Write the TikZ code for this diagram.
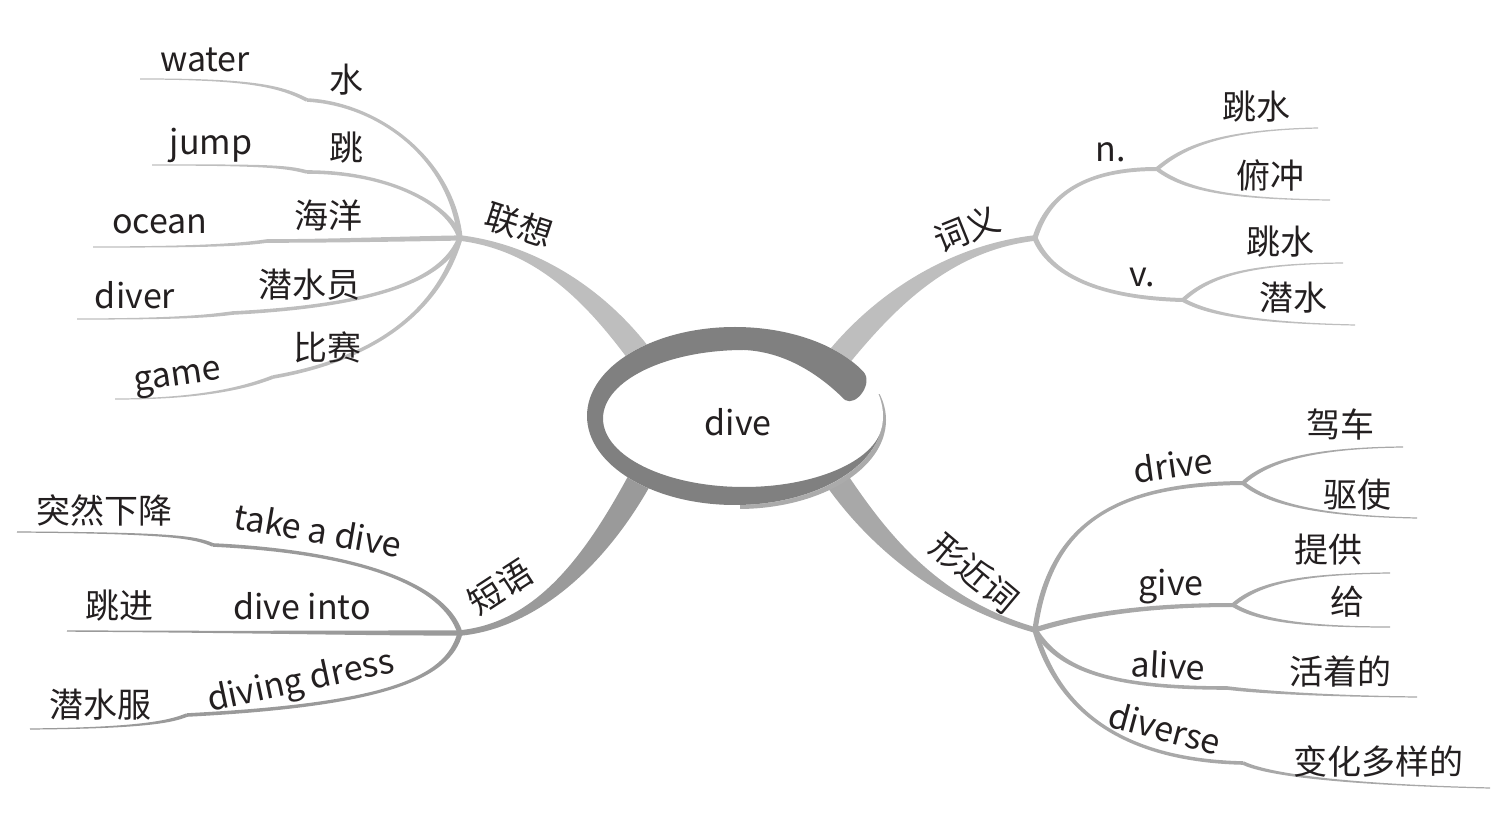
\documentclass[tikz,border=0pt]{standalone}
\usepackage{fontspec}
\setmainfont{Noto Sans CJK SC}
\usetikzlibrary{calc}
\usepackage{xcolor}

\definecolor{paleline}{HTML}{BEBEBE}
\definecolor{midline}{HTML}{9A9A9A}
\definecolor{softline}{HTML}{A8A8A8}
\definecolor{ringgray}{HTML}{808080}
\definecolor{rimgray}{HTML}{ABABAB}
\definecolor{ink}{HTML}{231F20}

% tapered branch: colour, wide end, control, control, narrow end, half widths
\newcommand\limb[7]{%
  \path (#2) coordinate (l0) (#3) coordinate (l1) (#4) coordinate (l2) (#5) coordinate (l3);
  \path ($(l0)!#6!90:(l1)$) coordinate (la) ($(l0)!#6!-90:(l1)$) coordinate (lb)
        ($(l3)!#7!-90:(l2)$) coordinate (lc) ($(l3)!#7!90:(l2)$) coordinate (ld);
  \fill[#1] (la) .. controls ($(l1)+(la)-(l0)$) and ($(l2)+(lc)-(l3)$) .. (lc)
    -- (ld) .. controls ($(l2)+(ld)-(l3)$) and ($(l1)+(lb)-(l0)$) .. (lb) -- cycle;
}

\begin{document}
\begin{tikzpicture}[
    x=0.5pt, y=-0.5pt,
    word/.style={inner sep=0pt, text=ink, font=\fontsize{17pt}{20pt}\selectfont}
]
\useasboundingbox (0,0) rectangle (1504,817);

% hubs and knees
\coordinate (assoc) at (460,238);
\coordinate (sense) at (1035,238);
\coordinate (phrase) at (460,633);
\coordinate (alike) at (1035,630);
\coordinate (nhub) at (1157,169);
\coordinate (vhub) at (1183,300);
\coordinate (drivehub) at (1243,483);
\coordinate (givehub) at (1233,605);
\coordinate (aliveknee) at (1227,688);
\coordinate (diverseknee) at (1243,763);
\coordinate (waterknee) at (307,100);
\coordinate (jumpknee) at (307,172);
\coordinate (oceanknee) at (267,241);
\coordinate (diverknee) at (233,313);
\coordinate (gameknee) at (273,377);
\coordinate (takeknee) at (213,545);
\coordinate (dressknee) at (187,715);

% main branches
\limb{paleline}{645,362}{600,300}{540,248}{assoc}{6pt}{1.4pt}
\limb{paleline}{835,362}{885,300}{950,248}{sense}{6pt}{1.4pt}
\limb{midline}{645,470}{600,555}{540,625}{phrase}{6pt}{1.4pt}
\limb{softline}{830,470}{870,530}{930,600}{alike}{6pt}{1.4pt}

% 联想
\limb{paleline}{assoc}{452,160}{380,104}{waterknee}{1.3pt}{0.9pt}
\limb{paleline}{waterknee}{280,86}{250,79}{140,79}{0.9pt}{0.3pt}
\limb{paleline}{assoc}{450,205}{390,172}{jumpknee}{1.3pt}{0.9pt}
\limb{paleline}{jumpknee}{285,166}{260,165}{152,165}{0.9pt}{0.3pt}
\limb{paleline}{assoc}{400,239}{330,241}{oceanknee}{1.3pt}{0.9pt}
\limb{paleline}{oceanknee}{240,245}{200,247}{93,247}{0.9pt}{0.3pt}
\limb{paleline}{assoc}{445,275}{390,305}{diverknee}{1.3pt}{0.9pt}
\limb{paleline}{diverknee}{210,316}{180,319}{77,319}{0.9pt}{0.3pt}
\limb{paleline}{assoc}{445,290}{400,355}{gameknee}{1.3pt}{0.9pt}
\limb{paleline}{gameknee}{245,388}{200,399}{115,399}{0.9pt}{0.3pt}

% 词义
\limb{paleline}{sense}{1048,195}{1085,169}{nhub}{1.3pt}{1.0pt}
\limb{paleline}{nhub}{1185,145}{1225,130}{1318,128}{1.0pt}{0.3pt}
\limb{paleline}{nhub}{1185,190}{1230,199}{1330,200}{1.0pt}{0.3pt}
\limb{paleline}{sense}{1050,275}{1100,298}{vhub}{1.3pt}{1.0pt}
\limb{paleline}{vhub}{1210,275}{1250,264}{1343,263}{1.0pt}{0.3pt}
\limb{paleline}{vhub}{1210,315}{1260,323}{1355,325}{1.0pt}{0.3pt}

% 短语
\limb{midline}{phrase}{445,585}{360,552}{takeknee}{1.3pt}{0.9pt}
\limb{midline}{takeknee}{195,537}{170,533}{17,532}{0.9pt}{0.3pt}
\limb{midline}{phrase}{350,633}{250,632}{67,631}{1.3pt}{0.35pt}
\limb{midline}{phrase}{448,680}{380,705}{dressknee}{1.3pt}{0.9pt}
\limb{midline}{dressknee}{170,722}{140,728}{30,729}{0.9pt}{0.3pt}

% 形近词
\limb{softline}{alike}{1050,520}{1120,484}{drivehub}{1.3pt}{1.0pt}
\limb{softline}{drivehub}{1268,460}{1315,448}{1403,447}{1.0pt}{0.3pt}
\limb{softline}{drivehub}{1268,503}{1315,516}{1417,518}{1.0pt}{0.3pt}
\limb{softline}{alike}{1090,612}{1160,605}{givehub}{1.3pt}{1.0pt}
\limb{softline}{givehub}{1258,583}{1300,574}{1390,573}{1.0pt}{0.3pt}
\limb{softline}{givehub}{1258,620}{1300,627}{1390,627}{1.0pt}{0.3pt}
\limb{softline}{alike}{1060,670}{1110,688}{aliveknee}{1.3pt}{0.9pt}
\limb{softline}{aliveknee}{1260,692}{1320,696}{1417,697}{0.9pt}{0.3pt}
\limb{softline}{alike}{1055,700}{1110,760}{diverseknee}{1.3pt}{0.9pt}
\limb{softline}{diverseknee}{1262,772}{1320,784}{1490,788}{0.9pt}{0.3pt}

% centre disc with its swirl
\begin{scope}
  \clip (740,395) rectangle (900,530);
  \fill[rimgray] (738,420) ellipse [x radius=148, y radius=89];
\end{scope}
\fill[white] (735,416) ellipse [x radius=148, y radius=89];
\fill[ringgray] (863.2,371.5) .. controls (836.8,344) and (787.8,327) .. (735,327)
  .. controls (653.3,327) and (587,366.8) .. (587,416)
  .. controls (587,465.2) and (653.3,505) .. (735,505)
  .. controls (808.8,505) and (871.8,471.9) .. (881.7,427.9)
  .. controls (874.3,461.6) and (814.3,487) .. (744,487)
  .. controls (666.1,487) and (603,456.3) .. (603,418.5)
  .. controls (603,380.7) and (666.1,350) .. (744,350)
  .. controls (790,352) and (825,380) .. (845,400)
  .. controls (856,407) and (874,383) .. (863.2,371.5) -- cycle;
\node[word] (core) at (738,422) {dive};

% labels
\node[word, rotate=-18] (assoclabel) at (519,225) {联想};
\node[word] (shui) at (346,80) {水};
\node[word] (water) at (205,60) {water};
\node[word] (tiao) at (346,148) {跳};
\node[word] (jump) at (211,145) {jump};
\node[word] (haiyang) at (328,216) {海洋};
\node[word] (ocean) at (160,224) {ocean};
\node[word] (qianshuiyuan) at (309,285) {潜水员};
\node[word] (diver) at (135,295) {diver};
\node[word] (bisai) at (327,347) {比赛};
\node[word, rotate=8] (game) at (178,380) {game};

\node[word, rotate=22] (senselabel) at (967,229) {词义};
\node[word] (noun) at (1111,152) {n.};
\node[word] (ntiaoshui) at (1256,107) {跳水};
\node[word] (fuchong) at (1270,175) {俯冲};
\node[word] (verb) at (1142,277) {v.};
\node[word] (vtiaoshui) at (1280,242) {跳水};
\node[word] (qianshui) at (1293,298) {潜水};

\node[word, rotate=33] (phraselabel) at (500,587) {短语};
\node[word] (turan) at (104,510) {突然下降};
\node[word, rotate=-10] (takedive) at (318,530) {take a dive};
\node[word] (tiaojin) at (119,606) {跳进};
\node[word] (diveinto) at (302,606) {dive into};
\node[word] (qianshuifu) at (100,705) {潜水服};
\node[word, rotate=12] (divingdress) at (301,683) {diving dress};

\node[word, rotate=-40] (alikelabel) at (975,573) {形近词};
\node[word, rotate=8] (drive) at (1173,465) {drive};
\node[word] (jiache) at (1340,424) {驾车};
\node[word] (qushi) at (1357,495) {驱使};
\node[word] (give) at (1171,587) {give};
\node[word] (tigong) at (1328,550) {提供};
\node[word] (gei) at (1347,602) {给};
\node[word, rotate=-3] (alive) at (1168,665) {alive};
\node[word] (huozhe) at (1340,672) {活着的};
\node[word, rotate=-15] (diverse) at (1165,728) {diverse};
\node[word] (bianhua) at (1378,761) {变化多样的};

\end{tikzpicture}
\end{document}
